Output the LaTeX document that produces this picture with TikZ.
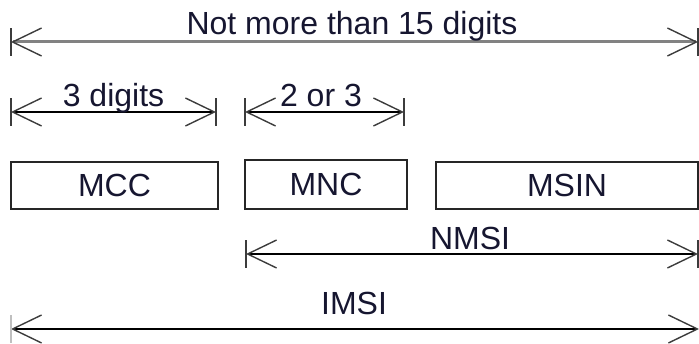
\documentclass[tikz,border=0pt]{standalone}
\usepackage{fontspec}
\setmainfont{Liberation Sans}
\usetikzlibrary{arrows.meta}
\definecolor{txt}{RGB}{22,22,48}
\definecolor{topline}{RGB}{130,130,130}
\definecolor{tipc}{RGB}{60,60,60}
\tikzset{
  lbl/.style={anchor=base, inner sep=0pt, text=txt, font=\fontsize{32}{38}\selectfont},
  field/.style={draw=black!85, line width=1.8pt, inner sep=0pt, text=txt,
    font=\fontsize{32}{38}\selectfont},
  dim/.style={line width=1.4pt, draw=black,
    {Straight Barb[length=29pt,width=28pt,line width=1.4pt,color=tipc]}-{Straight Barb[length=29pt,width=28pt,line width=1.4pt,color=tipc]}},
  topdim/.style={dim, line width=3pt, draw=topline},
  tick/.style={line width=1.6pt, draw=tipc},
  faint/.style={line width=1.4pt, draw=black!25}
}
\begin{document}
\begin{tikzpicture}[x=1pt,y=-1pt]
\useasboundingbox (0,0) rectangle (699,344);
% top dimension
\coordinate (t1) at (11,42);
\coordinate (t2) at (698,42);
\draw[topdim] (t1) -- (t2);
\draw[tick] ([yshift=-14pt]t1) -- ([yshift=14pt]t1);
\draw[tick] ([yshift=-14pt]t2) -- ([yshift=14pt]t2);
\node[lbl] (ttop) at (352,35) {Not more than 15 digits};
% 3 digits
\coordinate (a1) at (11,112);
\coordinate (a2) at (216,112);
\draw[dim] (a1) -- (a2);
\draw[tick] ([yshift=-14pt]a1) -- ([yshift=14pt]a1);
\draw[tick] ([yshift=-14pt]a2) -- ([yshift=14pt]a2);
\node[lbl] (ta) at (113.5,107) {3 digits};
% 2 or 3
\coordinate (b1) at (245,112);
\coordinate (b2) at (404,112);
\draw[dim] (b1) -- (b2);
\draw[tick] ([yshift=-14pt]b1) -- ([yshift=14pt]b1);
\draw[tick] ([yshift=-14pt]b2) -- ([yshift=14pt]b2);
\node[lbl] (tb) at (321,107) {2 or 3};
% fields
\node[field, minimum width=207pt, minimum height=47pt] (mcc) at (114.5,185.5) {MCC};
\node[field, minimum width=162pt, minimum height=49pt] (mnc) at (326,184.5) {MNC};
\node[field, minimum width=262pt, minimum height=47pt] (msin) at (567,185.5) {MSIN};
% NMSI
\coordinate (n1) at (246,254);
\coordinate (n2) at (698,254);
\draw[dim] (n1) -- (n2);
\draw[tick] ([yshift=-14pt]n1) -- ([yshift=14pt]n1);
\draw[tick] ([yshift=-14pt]n2) -- ([yshift=14pt]n2);
\node[lbl] (tn) at (470,250) {NMSI};
% IMSI
\coordinate (i1) at (11,329);
\coordinate (i2) at (699,329);
\draw[dim] (i1) -- (i2);
\draw[faint] ([yshift=-14pt]i1) -- ([yshift=14pt]i1);
\node[lbl] (ti) at (354,315) {IMSI};
\end{tikzpicture}
\end{document}
